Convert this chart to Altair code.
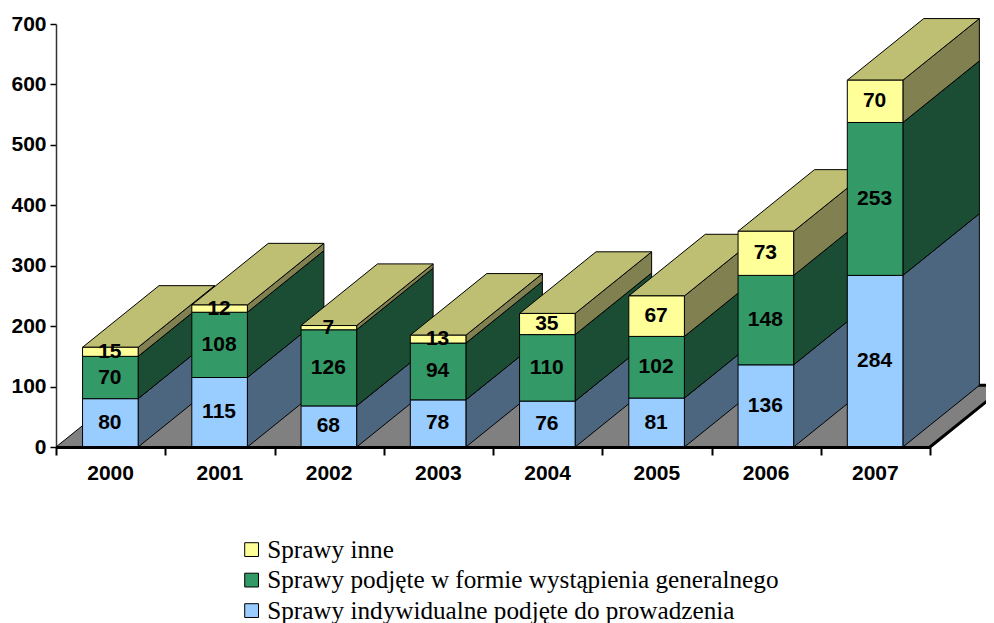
import altair as alt
import pandas as pd

years = ["2000", "2001", "2002", "2003", "2004", "2005", "2006", "2007"]
indywidualne = [80, 115, 68, 78, 76, 81, 136, 284]
wystapienia = [70, 108, 126, 94, 110, 102, 148, 253]
inne = [15, 12, 7, 13, 35, 67, 73, 70]
series_names = [
    "Sprawy indywidualne podjęte do prowadzenia",
    "Sprawy podjęte w formie wystąpienia generalnego",
    "Sprawy inne",
]
front_colors = ["#99CCFF", "#339966", "#FFFF99"]
side_colors = ["#4D6680", "#1A4D33", "#808050"]
top_color = "#BFBF73"
floor_color = "#808080"
series = [indywidualne, wystapienia, inne]

bar_start = 0.243   # bar's left edge within its category
bar_end = 0.752     # bar's right edge within its category
depth_x = 0.70      # 3D depth, in category widths
depth_y = 102       # 3D depth, in value units

font = "Liberation Sans"
x_scale = alt.Scale(domain=[0, 8], nice=False, zero=False)
y_scale = alt.Scale(domain=[0, 700], nice=False, zero=False)
x_axis = alt.Axis(values=list(range(9)), labels=False, title=None, grid=False,
                  tickSize=8, tickWidth=2, tickColor="black",
                  domainColor="black", domainWidth=3, zindex=1)
y_axis = alt.Axis(values=list(range(0, 701, 100)), title=None, grid=False,
                  tickSize=6, tickWidth=1.5, tickColor="black",
                  domainColor="#333333", domainWidth=1.5, zindex=0,
                  labelFont=font, labelFontWeight="bold", labelFontSize=21,
                  labelColor="black", labelPadding=4, labelBaseline="middle")
X = lambda f="x": alt.X(f"{f}:Q", scale=x_scale, axis=x_axis)
Y = lambda f="y": alt.Y(f"{f}:Q", scale=y_scale, axis=y_axis)

# Floor of the 3D chart
floor_df = pd.DataFrame({"y": [0, depth_y], "x": [0, depth_x], "x2": [8, 8 + depth_x]})
floor = alt.Chart(floor_df).mark_area(
    orient="horizontal", fill=floor_color, stroke="black", strokeWidth=1
).encode(x=X("x"), x2="x2:Q", y=Y("y"))

edge_df = pd.DataFrame({"x": [8, 8 + depth_x, 7.9], "y": [0, depth_y, depth_y], "o": [0, 1, 2]})
edge = alt.Chart(edge_df).mark_line(color="black", strokeWidth=3, clip=False).encode(
    x=X(), y=Y(), order="o:Q")

layers = [floor, edge]
label_rows = []
color_scale = alt.Scale(domain=series_names[::-1], range=front_colors[::-1])
legend = alt.Legend(title=None, orient="none", legendX=183, legendY=513, padding=0,
                    symbolType="square", symbolSize=190, symbolStrokeColor="black",
                    symbolStrokeWidth=1, labelFont="Liberation Serif", labelFontSize=25.2,
                    labelColor="black", labelOffset=3, rowPadding=4.5, labelLimit=700)

for i, year in enumerate(years):
    left, right = i + bar_start, i + bar_end
    side_rows, front_rows = [], []
    base = 0
    for s, values in enumerate(series):
        v = values[i]
        key = series_names[s]
        front_rows.append({"x": left, "x2": right, "y": base, "y2": base + v, "s": key})
        side_rows.append({"x": right, "y": base, "y2": base + v, "c": side_colors[s], "g": s})
        side_rows.append({"x": right + depth_x, "y": base + depth_y, "y2": base + v + depth_y,
                          "c": side_colors[s], "g": s})
        label_rows.append({"x": (left + right) / 2 - 0.005, "y": base + v / 2, "t": str(v)})
        base += v
    side = alt.Chart(pd.DataFrame(side_rows)).mark_area(
        orient="vertical", stroke="black", strokeWidth=1
    ).encode(x=X(), y=Y(), y2="y2:Q", detail="g:N", fill=alt.Fill("c:N", scale=None))
    top_df = pd.DataFrame({"y": [base, base + depth_y],
                           "x": [left, left + depth_x],
                           "x2": [right, right + depth_x]})
    top = alt.Chart(top_df).mark_area(
        orient="horizontal", fill=top_color, stroke="black", strokeWidth=1
    ).encode(x=X(), x2="x2:Q", y=Y())
    front = alt.Chart(pd.DataFrame(front_rows)).mark_rect(
        stroke="black", strokeWidth=1
    ).encode(x=X(), x2="x2:Q", y=Y(), y2="y2:Q",
             color=alt.Color("s:N", scale=color_scale, legend=legend))
    layers += [side, top, front]

values_text = alt.Chart(pd.DataFrame(label_rows)).mark_text(
    font=font, fontWeight="bold", fontSize=21, color="black", baseline="middle", align="center"
).encode(x=X(), y=Y(), text="t:N")

year_df = pd.DataFrame({"x": [i + 0.5 for i in range(8)], "y": [0] * 8, "t": years})
year_text = alt.Chart(year_df).mark_text(
    font=font, fontWeight="bold", fontSize=21, color="black", baseline="middle",
    align="center", dy=27
).encode(x=X(), y=Y(), text="t:N")

chart = alt.layer(*layers, values_text, year_text).properties(
    width=874, height=423,
    padding={"left": 48, "top": 16, "right": 56, "bottom": 176},
    autosize=alt.AutoSizeParams(type="none"),
    background="white",
).configure_view(stroke=None)

chart.save("out.html", embed_options={"renderer": "svg", "actions": False})
